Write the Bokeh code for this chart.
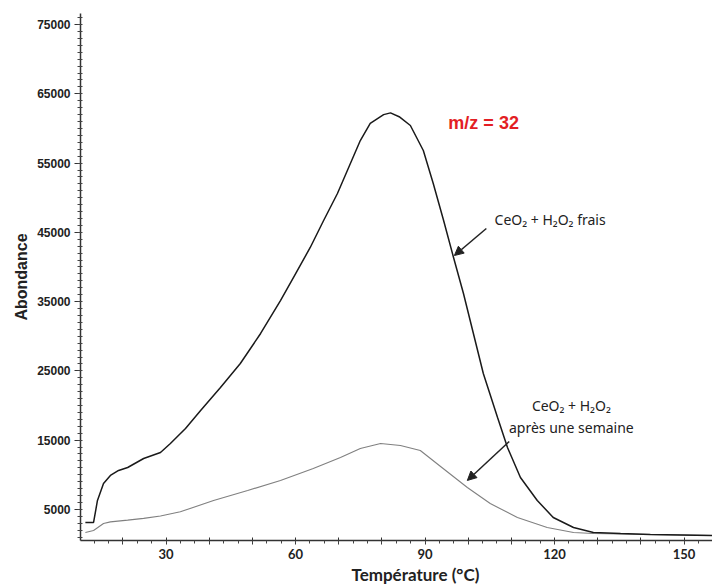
from bokeh.plotting import figure
from bokeh.models import Range1d, FixedTicker, Arrow, NormalHead, Title
from bokeh.core.properties import value
from bokeh.embed import file_html
from bokeh.resources import INLINE

# ---- data ----
temp_fresh = [11.3, 13.2, 14.1, 15.5, 17.1, 19.0, 21.1, 24.8, 28.7, 31.0, 34.5,
              38.0, 42.6, 47.2, 51.9, 56.5, 59.5, 63.4, 66.5, 69.7, 72.0, 75.0,
              77.3, 80.4, 82.0, 84.0, 86.6, 89.6, 91.9, 94.3, 96.6, 98.9, 101.2,
              103.5, 106.8, 109.1, 112.1, 116.0, 119.7, 124.4, 129.0, 135.3,
              142.2, 156.6]
abund_fresh = [3110, 3110, 6290, 8740, 9900, 10620, 11050, 12350, 13220, 14520,
               16680, 19280, 22600, 26070, 30400, 35160, 38480, 42820, 46710,
               50610, 53930, 58260, 60720, 62000, 62250, 61700, 60430, 56820,
               52060, 46710, 41370, 36170, 30400, 24620, 18270, 13940, 9610,
               6290, 3830, 2390, 1670, 1520, 1380, 1230]

temp_week = [11.3, 13.2, 15.5, 17.1, 21.1, 24.8, 28.7, 33.3, 41.0, 48.9, 56.5,
             64.1, 70.4, 75.0, 79.7, 84.3, 88.9, 93.6, 99.8, 105.1, 111.4,
             118.3, 124.4, 129.0, 135.3, 142.2, 156.6]
abund_week = [1670, 1960, 2970, 3200, 3450, 3700, 4050, 4650, 6290, 7730, 9180,
              10910, 12500, 13800, 14520, 14230, 13510, 11200, 8160, 5850, 3830,
              2390, 1670, 1520, 1450, 1380, 1230]

x_ticks = [10, 20, 30, 40, 50, 60, 70, 80, 90, 100, 110, 120, 130, 140, 150]
x_tick_labels = ["", "", "30", "", "", "60", "", "", "90", "", "", "120", "", "", "150"]
y_ticks = [5000, 15000, 25000, 35000, 45000, 55000, 65000, 75000]
y_tick_labels = ["5000", "15000", "25000", "35000", "45000", "55000", "65000", "75000"]

title_mz = "m/z = 32"
label_fresh = "CeO\u2082 + H\u2082O\u2082 frais"
label_week_1 = "CeO\u2082 + H\u2082O\u2082"
label_week_2 = "après une semaine"
x_title = "Température (°C)"
y_title = "Abondance"

# ---- figure ----
p = figure(width=712, height=584, output_backend="svg", toolbar_location=None,
           x_range=Range1d(10.17, 156.6), y_range=Range1d(510, 76600),
           min_border_left=80, min_border_right=0, min_border_top=13,
           min_border_bottom=44)
p.xgrid.visible = False
p.ygrid.visible = False
p.outline_line_color = None
p.background_fill_color = "white"

x_minor = [10 + i * 10 / 3 for i in range(0, 45)]
y_minor = list(range(1000, 77000, 1000))

xa = p.xaxis[0]
xa.ticker = FixedTicker(ticks=x_ticks, minor_ticks=x_minor)
xa.major_label_overrides = dict(zip(x_ticks, x_tick_labels))
xa.major_label_text_font = "Lato"
xa.major_label_text_font_style = "bold"
xa.major_label_text_font_size = "13px"
xa.major_label_text_color = "#222222"
xa.major_label_standoff = 4
xa.major_tick_in = 3
xa.major_tick_out = 4
xa.minor_tick_in = 0
xa.minor_tick_out = 3
xa.axis_line_width = 1.5
xa.axis_line_color = "#333333"
xa.major_tick_line_color = "#333333"
xa.minor_tick_line_color = "#444444"

ya = p.yaxis[0]
ya.ticker = FixedTicker(ticks=y_ticks, minor_ticks=y_minor)
ya.major_label_overrides = dict(zip(y_ticks, y_tick_labels))
ya.major_label_text_font = "Liberation Sans"
ya.major_label_text_font_style = "bold"
ya.major_label_text_font_size = "12px"
ya.major_label_text_color = "#222222"
ya.major_label_standoff = 4
ya.major_tick_in = 1
ya.major_tick_out = 6
ya.minor_tick_in = 2
ya.minor_tick_out = 3
ya.axis_line_width = 1.5
ya.axis_line_color = "#333333"
ya.major_tick_line_color = "#333333"
ya.minor_tick_line_color = "#444444"
ya.axis_label = y_title
ya.axis_label_text_font = "Liberation Sans"
ya.axis_label_text_font_style = "bold"
ya.axis_label_text_font_size = "16px"
ya.axis_label_text_color = "#222222"
ya.axis_label_standoff = 4

# x-axis title placed below the axis, shifted right as in the reference
p.add_layout(Title(text=x_title, align="left", offset=271, standoff=0,
                   text_font="Lato", text_font_style="bold",
                   text_font_size="17px", text_color="#222222"), "below")

# ---- curves ----
p.line(temp_week, abund_week, line_color="#808080", line_width=1.1)
p.line(temp_fresh, abund_fresh, line_color="#1a1a1a", line_width=1.5)

# ---- annotations ----
p.text(x=[95.4], y=[60720], text=[title_mz], text_font=value("Liberation Sans"),
       text_font_style="bold", text_font_size="18px", text_color="#e31e24",
       text_align="left", text_baseline="middle")
p.text(x=[106.1], y=[46860], text=[label_fresh], text_font=value("Noto Sans"),
       text_font_size="14px", text_color="#222222",
       text_align="left", text_baseline="middle")
p.text(x=[123.9, 123.9], y=[20000, 16830], text=[label_week_1, label_week_2],
       text_font=value("Noto Sans"), text_font_size="14px", text_color="#222222",
       text_align="center", text_baseline="middle")

p.add_layout(Arrow(end=NormalHead(size=9, fill_color="#222222", line_color="#222222"),
                   x_start=104.2, y_start=45560, x_end=96.8, y_end=41660,
                   line_color="#222222", line_width=1.5))
p.add_layout(Arrow(end=NormalHead(size=9, fill_color="#222222", line_color="#222222"),
                   x_start=109.5, y_start=14800, x_end=99.8, y_end=9180,
                   line_color="#222222", line_width=1.5))

open("out.html", "w").write(file_html(p, INLINE))
